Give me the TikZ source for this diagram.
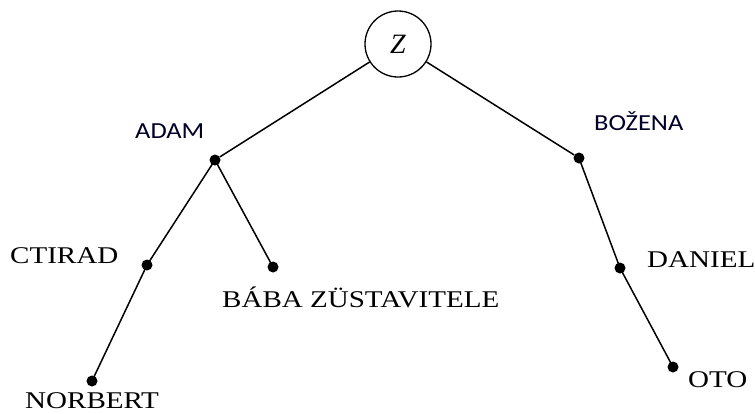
\documentclass[tikz,border=0pt]{standalone}
\usepackage{fontspec}
\usepackage{graphicx}
\setmainfont{Liberation Serif}
\newfontfamily\labsans{Carlito}
\newcommand{\wideser}[1]{\scalebox{1.21}[1]{\fontsize{24}{28}\selectfont #1}}
\newcommand{\widesan}[1]{\scalebox{1.15}[1]{\labsans\fontsize{23}{26}\selectfont #1}}
\begin{document}
\begin{tikzpicture}[x=1pt,y=-1pt,
  edge/.style={line width=1.5pt},
  dot/.style={circle,fill=black,inner sep=0pt,minimum size=11pt},
  root/.style={circle,draw,line width=1.3pt,minimum size=66pt,inner sep=0pt,font=\fontsize{28}{30}\selectfont\itshape},
  serlab/.style={inner sep=0pt,anchor=base west},
  sanlab/.style={inner sep=0pt,anchor=base west,text=black!85!blue}]
\useasboundingbox (0,0) rectangle (755,413);
% root of the family tree
\node[root] (z) at (398,44) {Z};
% persons
\node[dot] (adam) at (215,160) {};
\node[dot] (bozena) at (579,158) {};
\node[dot] (ctirad) at (147,265) {};
\node[dot] (baba) at (273,267) {};
\node[dot] (norbert) at (92,381) {};
\node[dot] (daniel) at (620,268) {};
\node[dot] (oto) at (673,367) {};
% lines of descent
\draw[edge] (z) -- (adam);
\draw[edge] (z) -- (bozena);
\draw[edge] (adam.center) -- (ctirad.center);
\draw[edge] (adam.center) -- (baba.center);
\draw[edge] (ctirad.center) -- (norbert.center);
\draw[edge] (bozena.center) -- (daniel.center);
\draw[edge] (daniel.center) -- (oto.center);
% names
\node[sanlab] (ladam) at (135,138) {\widesan{ADAM}};
\node[sanlab] (lbozena) at (594,130) {\widesan{BOŽENA}};
\node[serlab] (lctirad) at (10,263) {\wideser{CTIRAD}};
\node[serlab] (lbaba) at (222,307) {\wideser{BÁBA ZÜSTAVITELE}};
\node[serlab] (ldaniel) at (647,267) {\wideser{DANIEL}};
\node[serlab] (lnorbert) at (25,408) {\wideser{NORBERT}};
\node[serlab] (loto) at (688,387) {\wideser{OTO}};
\end{tikzpicture}
\end{document}
